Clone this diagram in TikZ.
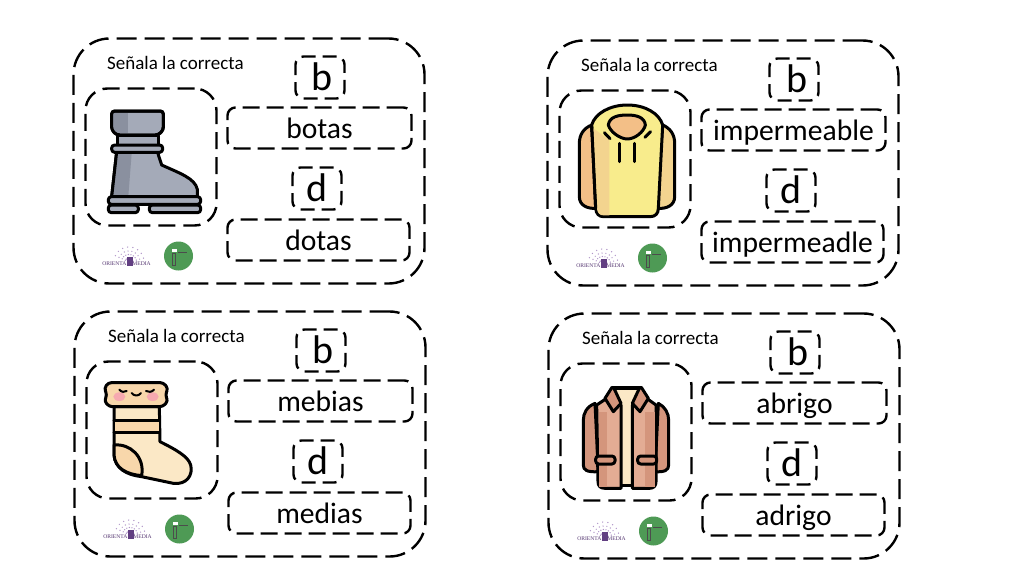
\documentclass[tikz,border=0pt]{standalone}
\usepackage{fontspec}
\setmainfont{Carlito}
\newfontfamily\logofont{Liberation Serif}
\usepackage{tikz}
\usetikzlibrary{calc}

\definecolor{bootgrey}{HTML}{A4AAB8}
\definecolor{bootdark}{HTML}{8A909F}
\definecolor{hoodyellow}{HTML}{F8EC8C}
\definecolor{hoodshade}{HTML}{F3D48F}
\definecolor{hoodorange}{HTML}{F3BF87}
\definecolor{jackred}{HTML}{D4957C}
\definecolor{jacklight}{HTML}{E3AC94}
\definecolor{creamy}{HTML}{FBE8C6}
\definecolor{creamdark}{HTML}{F8D7AB}
\definecolor{cheek}{HTML}{F6A9B0}
\definecolor{logopurple}{HTML}{7B4FA3}
\definecolor{logogreen}{HTML}{4E9A55}

\tikzset{
    cajafuera/.style = {shape=rectangle, draw, line width=2.4pt, rounded corners=36pt, dash pattern=on 20pt off 8pt,
        minimum width=351pt, minimum height=245pt},
    cajafoto/.style = {shape=rectangle, draw, line width=2.4pt, rounded corners=22pt, dash pattern=on 17pt off 8pt,
        minimum width=131pt, minimum height=137pt},
    cajaletra/.style = {shape=rectangle, draw, line width=2.4pt, rounded corners=8pt, dash pattern=on 14pt off 7pt,
        minimum width=49pt, minimum height=42pt, inner sep=0pt, text height=26pt, text depth=0pt, font=\fontsize{40}{40}\selectfont},
    cajapalabra/.style = {shape=rectangle, draw, line width=2.4pt, rounded corners=8pt, dash pattern=on 17pt off 7pt,
        minimum height=41pt, inner sep=0pt, text height=20pt, text depth=0pt, font=\fontsize{29.6}{30}\selectfont},
    titulo/.style = {anchor=west, inner sep=0pt, font=\fontsize{19}{19}\selectfont},
    dibujo/.style = {line width=3pt, line join=round, line cap=round}
}

% one card: prefix, shift, the two words
\newcommand{\tarjeta}[5]{
    \begin{scope}[shift={(#2,#3)}, name prefix=#1]
        \node[cajafuera] (fuera) at (249,161) {};
        \node[cajafoto] (foto) at (151,157) {};
        \node[titulo] (titulo) at (107,63) {Señala la correcta};
        \node[cajaletra] (letrab) at (320,77.5) {\hspace{5pt}b};
        \node[cajapalabra, minimum width=184pt] (palabrab) at (319.5,128) {#4};
        \node[cajaletra] (letrad) at (317,188.5) {d};
        \node[cajapalabra, minimum width=182pt] (palabrad) at (318.5,240) {#5};
        % logos at the bottom
        \foreach \r in {4,7.5,11,15}
            \foreach \a in {15,35,...,165}
                \fill[logopurple!60] ($(129,262)+(\a:\r pt)$) circle (0.7pt);
        \node[inner sep=0pt, font=\logofont\fontsize{5.6}{5.6}\selectfont, text=logopurple!70!black] (logotexto) at (126.5,264) {ORIENTA\hspace{6pt}MEDIA};
        \fill[logopurple!80!black] (127,266) rectangle (132.5,257);
        \node[circle, fill=logogreen, minimum size=29pt, inner sep=0pt] (logoverde) at (178.5,256) {};
        \fill[white] (172,248.5) rectangle (177,252);
        \draw[black!70, line width=0.7pt] (172,253) rectangle (175,265);
        \draw[black!70, line width=0.8pt] (177.5,252) -- (187,252);
    \end{scope}
}

\begin{document}
\begin{tikzpicture}[x=1pt, y=-1pt]
    \useasboundingbox (0,0) rectangle (1024,576);
    \fill[white] (0,0) rectangle (1024,576);

    \tarjeta{uno-}{0}{0}{botas}{dotas}
    \tarjeta{dos-}{474}{2}{impermeable}{impermeadle}
    \tarjeta{tres-}{1}{273}{mebias}{medias}
    \tarjeta{cuatro-}{475}{275}{abrigo}{adrigo}

    % boot
    \begin{scope}[shift={(60,30)}, scale=1/3, dibujo]
        \filldraw[fill=bootgrey] (172,315) rectangle (295,348);
        \filldraw[fill=bootgrey] (170,365) -- (155,500) -- (412,500) -- (412,478) .. controls (405,445) and (360,430) .. (305,405) -- (292,365) -- cycle;
        \fill[bootdark] (172,370) -- (158,498) -- (205,498) -- (215,370) -- cycle;
        \draw (170,365) -- (155,500) -- (412,500);
        \filldraw[fill=bootgrey, rounded corners=3pt] (155,243) -- (155,300) -- (170,315) -- (295,315) -- (310,300) -- (310,243) -- cycle;
        \fill[bootdark] (160,248) rectangle (205,310);
        \draw[rounded corners=3pt] (155,243) -- (155,300) -- (170,315) -- (295,315) -- (310,300) -- (310,243) -- cycle;
        \filldraw[fill=bootgrey, rounded corners=3pt] (155,345) rectangle (308,367);
        \filldraw[fill=bootgrey, rounded corners=3pt] (145,500) rectangle (422,523);
        \filldraw[fill=bootgrey, rounded corners=3pt] (145,525) rectangle (235,548);
        \filldraw[fill=bootgrey, rounded corners=3pt] (268,525) rectangle (422,548);
    \end{scope}

    % hoodie
    \begin{scope}[shift={(550,80)}, scale=1/3, dibujo]
        \filldraw[fill=hoodorange] (125,135) .. controls (100,145) and (88,165) .. (88,190) -- (88,350) .. controls (88,375) and (110,388) .. (145,385) -- cycle;
        \filldraw[fill=hoodshade] (338,135) .. controls (362,145) and (374,165) .. (374,190) -- (374,350) .. controls (374,375) and (352,388) .. (318,385) -- cycle;
        \filldraw[fill=hoodyellow] (125,135) .. controls (135,100) and (180,75) .. (232,75) .. controls (285,75) and (328,100) .. (338,135) -- (325,385) .. controls (325,402) and (315,410) .. (300,410) -- (160,410) .. controls (148,410) and (138,402) .. (137,385) -- cycle;
        \fill[hoodshade] (130,145) -- (178,180) -- (178,406) -- (160,406) .. controls (150,406) and (142,400) .. (141,385) -- cycle;
        \draw (125,135) -- (137,385);
        \filldraw[fill=hoodorange] (175,135) .. controls (178,110) and (205,105) .. (232,105) .. controls (260,105) and (284,112) .. (286,135) .. controls (282,155) and (255,177) .. (232,177) .. controls (210,177) and (180,155) .. (175,135) -- cycle;
        \draw (207,190) -- (207,245);
        \draw (253,190) -- (253,245);
        \draw (163,158) -- (180,176);
        \draw (302,155) -- (285,172);
    \end{scope}

    % sock
    \begin{scope}[shift={(80,355)}, scale=1/3, dibujo]
        \filldraw[fill=creamy] (102,155) -- (102,300) .. controls (105,340) and (140,360) .. (185,365) -- (280,385) .. controls (320,390) and (340,360) .. (332,330) .. controls (325,305) and (290,285) .. (240,260) -- (238,155) -- cycle;
        \fill[creamdark] (104,197) rectangle (236,230);
        \filldraw[fill=creamdark] (102,270) .. controls (150,265) and (195,305) .. (185,362) .. controls (140,358) and (105,340) .. (102,300) -- cycle;
        \draw (102,195) -- (238,195);
        \draw (102,232) -- (238,232);
        \filldraw[fill=creamdark, rounded corners=3pt] (85,83) -- (250,83) -- (264,100) -- (256,120) -- (264,138) -- (248,155) -- (88,155) -- (73,138) -- (81,120) -- (73,100) -- cycle;
        \fill[cheek] (118,125) ellipse (18 and 13);
        \fill[cheek] (218,125) ellipse (18 and 13);
        \draw[line width=2pt] (118,104) .. controls (125,112) and (133,112) .. (140,108);
        \draw[line width=2pt] (198,108) .. controls (205,112) and (215,112) .. (222,104);
        \draw[line width=2pt] (155,114) .. controls (162,124) and (176,124) .. (183,114);
    \end{scope}

    % jacket
    \begin{scope}[shift={(550,355)}, scale=1/3, dibujo]
        \filldraw[fill=jackred] (135,145) .. controls (110,155) and (100,175) .. (100,195) -- (100,330) .. controls (100,345) and (110,352) .. (145,350) -- cycle;
        \filldraw[fill=jackred] (325,145) .. controls (345,155) and (356,175) .. (356,195) -- (356,330) .. controls (356,345) and (345,352) .. (315,350) -- cycle;
        \filldraw[fill=creamy] (190,100) -- (270,100) -- (270,390) -- (190,390) -- cycle;
        \filldraw[fill=jacklight] (140,150) -- (170,130) -- (213,150) -- (213,400) -- (165,400) .. controls (150,400) and (144,392) .. (144,380) -- cycle;
        \filldraw[fill=jacklight] (318,150) -- (290,130) -- (247,150) -- (247,400) -- (298,400) .. controls (312,400) and (318,392) .. (318,380) -- cycle;
        \fill[jackred] (148,170) rectangle (172,395);
        \fill[jackred] (285,170) rectangle (314,395);
        \filldraw[fill=jackred] (186,97) -- (165,130) -- (190,170) -- (213,145) -- (192,100) -- cycle;
        \filldraw[fill=jackred] (274,97) -- (295,130) -- (270,170) -- (247,145) -- (268,100) -- cycle;
        \draw (186,97) -- (274,97);
        \filldraw[fill=jackred, rounded corners=3pt] (137,303) rectangle (195,327);
        \filldraw[fill=jackred, rounded corners=3pt] (263,303) rectangle (320,327);
    \end{scope}
\end{tikzpicture}
\end{document}
